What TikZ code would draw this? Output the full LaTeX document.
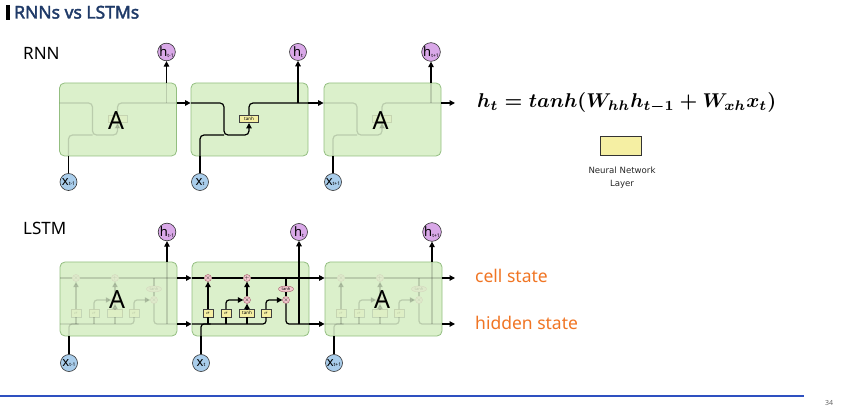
\documentclass[tikz,border=0pt]{standalone}
\usepackage[no-math]{fontspec}
\setmainfont{Noto Sans}
\newfontfamily\labfont{DejaVu Sans}
\newfontfamily\titlefont[FakeBold=2.2]{Noto Sans}
\usetikzlibrary{arrows.meta,shapes.geometric}
\definecolor{boxfill}{HTML}{DBF0CB}
\definecolor{boxedge}{HTML}{93BE80}
\definecolor{hfill}{HTML}{D9A8E8}
\definecolor{xfill}{HTML}{A9CDEB}
\definecolor{layerfill}{HTML}{F5EFA3}
\definecolor{opfill}{HTML}{F3C9CF}
\definecolor{opedge}{HTML}{A05565}
\definecolor{navy}{HTML}{1F3A68}
\definecolor{orangetxt}{HTML}{F07524}
\definecolor{rulecol}{HTML}{2E50C0}
\newcommand{\clab}[2]{{\fontsize{13}{13}\selectfont #1}\raisebox{-0.5pt}{\fontsize{5}{5}\selectfont #2}}
\tikzset{
 cellbox/.style={draw=boxedge, fill=boxfill, rounded corners=5pt, line width=0.8pt, minimum width=117pt, inner sep=0pt},
 ln/.style={line width=1.2pt, draw=black},
 arr/.style={ln, -{Triangle[length=5.5pt,width=5.5pt]}},
 hcirc/.style={circle, draw=black!80, line width=0.6pt, fill=hfill, minimum size=17pt, inner sep=0pt},
 xcirc/.style={circle, draw=black!80, line width=0.6pt, fill=xfill, minimum size=17pt, inner sep=0pt},
 layer/.style={draw=black!75, fill=layerfill, line width=0.5pt, inner sep=0.6pt, minimum height=7.5pt, font=\fontsize{4.5}{4.5}\selectfont},
 op/.style={circle, draw=opedge, fill=opfill, line width=0.4pt, minimum size=7pt, inner sep=0pt, font=\fontsize{5}{5}\selectfont},
 bigA/.style={font=\fontsize{25}{25}\selectfont},
 side/.style={font=\fontsize{17}{17}\selectfont, anchor=base west},
 state/.style={font=\fontsize{17.5}{17.5}\selectfont, text=orangetxt, anchor=base west},
}
% #1 suffix, #2 centre x, #3 opacity, #4 text of the central layer
\newcommand{\rnnin}[4]{%
 \begin{scope}[shift={(#2,119.5)}, opacity=#3]
  \node[layer, minimum width=19pt] (tanh#1) at (-0.5,-0.5) {#4};
  \draw[arr, rounded corners=4pt] (-58.5,-16.5) -| (-25.5,15.5) -| (tanh#1.south);
  \draw[ln, rounded corners=4pt] (-49.5,36.5) |- (-25.5,15.5);
  \draw[ln, rounded corners=4pt] (tanh#1.north) |- (58.5,-16.5);
  \draw[ln] (48.5,-16.5) -- (48.5,-36.5);
 \end{scope}}
% #1 suffix, #2 centre x, #3 opacity, #4 text of the central layer, #5 text of the central op
\newcommand{\lstmin}[5]{%
 \begin{scope}[shift={(#2,299)}, opacity=#3]
  \node[op] (fx#1) at (-42.5,-21) {$\times$};
  \node[op] (pl#1) at (-3.5,-21) {$+$};
  \node[layer, minimum width=10pt] (sa#1) at (-42.5,14) {$\sigma$};
  \node[layer, minimum width=10pt] (sb#1) at (-24.5,14) {$\sigma$};
  \node[layer, minimum width=15pt] (tg#1) at (-3.5,14) {#4};
  \node[layer, minimum width=10pt] (sc#1) at (15.5,14) {$\sigma$};
  \node[op] (ix#1) at (-3.5,1) {#5};
  \node[op] (ox#1) at (35.5,1) {$\times$};
  \node[op, ellipse, minimum width=15pt, minimum height=6pt, font=\fontsize{4}{4}\selectfont] (tc#1) at (35.5,-10) {tanh};
  \draw[ln] (-58.5,-21) -- (fx#1);
  \draw[ln] (fx#1) -- (pl#1);
  \draw[ln] (pl#1) -- (58.5,-21);
  \draw[arr] (sa#1) -- (fx#1);
  \draw[arr, rounded corners=3pt] (sb#1) |- (ix#1);
  \draw[arr] (tg#1) -- (ix#1);
  \draw[arr] (ix#1) -- (pl#1);
  \draw[arr, rounded corners=3pt] (sc#1) |- (ox#1);
  \draw[ln] (35.5,-21) -- (tc#1);
  \draw[ln] (tc#1) -- (ox#1);
  \draw[ln, rounded corners=3pt] (ox#1) |- (58.5,25);
  \draw[ln, rounded corners=3pt] (-58.5,25) -| (sc#1);
  \draw[ln] (sa#1) -- (sa#1|-0,25);
  \draw[ln] (sb#1) -- (sb#1|-0,25);
  \draw[ln] (tg#1) -- (tg#1|-0,25);
  \draw[ln, rounded corners=3pt] (-49.5,37) |- (-40,25);
  \draw[ln] (48.5,25) -- (48.5,-37);
 \end{scope}}
\begin{document}
\begin{tikzpicture}[x=1pt,y=-1pt]
\useasboundingbox (0,0) rectangle (853,411);
% title
\fill[black] (6,5) rectangle (9.5,20.5);
\node[anchor=base west, inner sep=0pt, text=navy, font=\titlefont\fontsize{17.5}{17.5}\selectfont] (title) at (14,18.5) {RNNs vs LSTMs};
% ---------- RNN ----------
\node[side, inner sep=0pt] (rnnlab) at (23,60) {RNN};
\node[cellbox, minimum height=73pt] (r1) at (118,119.5) {};
\node[cellbox, minimum height=73pt] (r2) at (249.5,119.5) {};
\node[cellbox, minimum height=73pt] (r3) at (382.5,119.5) {};
\rnnin{a}{118}{0.15}{}
\rnnin{b}{249.5}{1}{tanh}
\rnnin{c}{382.5}{0.15}{}
\node[bigA] (ar1) at (116,121) {A};
\node[bigA] (ar3) at (380.5,121) {A};
\node[hcirc] (hr1) at (166.5,52) {\clab{h}{t-1}};
\node[hcirc] (hr2) at (298,52) {\clab{h}{t}};
\node[hcirc] (hr3) at (431,52) {\clab{h}{t+1}};
\node[xcirc] (xr1) at (68.5,182) {\clab{x}{t-1}};
\node[xcirc] (xr2) at (200,182) {\clab{x}{t}};
\node[xcirc] (xr3) at (333,182) {\clab{x}{t+1}};
\foreach \i in {1,2,3}{
 \draw[arr] (hr\i|-r\i.north) -- (hr\i);
 \draw[ln] (xr\i) -- (xr\i|-r\i.south);
}
\draw[arr] (r1.east|-0,103) -- (r2.west|-0,103);
\draw[arr] (r2.east|-0,103) -- (r3.west|-0,103);
\coordinate (rend) at (455,103);
\draw[arr] (r3.east|-0,103) -- (rend);
% equation
\node[anchor=base west, inner sep=0pt] (eq) at (477,108) {\resizebox{299pt}{!}{\boldmath$h_t = tanh(W_{hh}h_{t-1} + W_{xh}x_t)$}};
% legend
\node[draw=black!80, line width=0.7pt, fill=layerfill, minimum width=41pt, minimum height=19pt, inner sep=0pt] (nnl) at (620.5,145.5) {};
\node[align=center, font=\labfont\fontsize{8.6}{13}\selectfont, text=black!85] (nnlt) at (622,177.5) {Neural Network\\Layer};
% ---------- LSTM ----------
\node[side, inner sep=0pt] (lstmlab) at (23,235) {LSTM};
\node[cellbox, minimum height=74pt] (l1) at (118.5,299) {};
\node[cellbox, minimum height=74pt] (l2) at (250.5,299) {};
\node[cellbox, minimum height=74pt] (l3) at (383.5,299) {};
\lstmin{a}{118.5}{0.15}{}{}
\lstmin{b}{250.5}{1}{tanh}{$\times$}
\lstmin{c}{383.5}{0.15}{}{}
\node[bigA] (al1) at (117,300) {A};
\node[bigA] (al3) at (382,300) {A};
\node[hcirc] (hl1) at (167,232) {\clab{h}{t-1}};
\node[hcirc] (hl2) at (299,232) {\clab{h}{t}};
\node[hcirc] (hl3) at (432,232) {\clab{h}{t+1}};
\node[xcirc] (xl1) at (69,363) {\clab{x}{t-1}};
\node[xcirc] (xl2) at (201,363) {\clab{x}{t}};
\node[xcirc] (xl3) at (334,363) {\clab{x}{t+1}};
\foreach \i in {1,2,3}{
 \draw[arr] (hl\i|-l\i.north) -- (hl\i);
 \draw[ln] (xl\i) -- (xl\i|-l\i.south);
}
\draw[arr] (l1.east|-0,278) -- (l2.west|-0,278);
\draw[arr] (l2.east|-0,278) -- (l3.west|-0,278);
\draw[arr] (l1.east|-0,324) -- (l2.west|-0,324);
\draw[arr] (l2.east|-0,324) -- (l3.west|-0,324);
\coordinate (cend) at (455,278);
\coordinate (hend) at (455,324);
\draw[arr] (l3.east|-0,278) -- (cend);
\draw[arr] (l3.east|-0,324) -- (hend);
\node[state, inner sep=0pt] (cs) at (475,283) {cell state};
\node[state, inner sep=0pt] (hs) at (475,329) {hidden state};
% footer
\draw[rulecol, line width=1.8pt] (0,396) -- (804,396);
\node[font=\fontsize{7}{7}\selectfont, text=black!60] (pg) at (829,403) {34};
\end{tikzpicture}
\end{document}
